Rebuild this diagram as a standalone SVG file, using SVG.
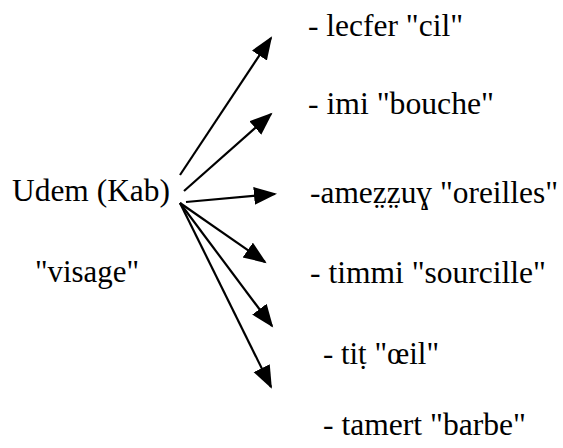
<svg xmlns="http://www.w3.org/2000/svg" width="563" height="448" viewBox="0 0 563 448">
<style>
.t{font-family:"Liberation Serif","DejaVu Serif","Times New Roman",serif;font-size:31px;fill:#000}
</style>
<defs>
<marker id="ah" markerUnits="userSpaceOnUse" markerWidth="24" markerHeight="20" refX="21" refY="9" orient="auto" viewBox="0 0 24 20">
<path d="M0,0 L23,9 L0,18 z" fill="#000"/>
</marker>
</defs>
<rect width="563" height="448" fill="#fff"/>
<g class="t">
<g id="src"><text x="12" y="201" textLength="158" lengthAdjust="spacingAndGlyphs">Udem (Kab)</text><text x="35" y="282" textLength="104" lengthAdjust="spacingAndGlyphs">"visage"</text></g>
<g id="n1"><text x="308" y="36" textLength="155" lengthAdjust="spacingAndGlyphs">- lecfer "cil"</text></g>
<g id="n2"><text x="308" y="114" textLength="186" lengthAdjust="spacingAndGlyphs">- imi "bouche"</text></g>
<g id="n3"><text x="310" y="203" textLength="248" lengthAdjust="spacingAndGlyphs">-amez̤z̤uɣ "oreilles"</text></g>
<g id="n4"><text x="310" y="283" textLength="236" lengthAdjust="spacingAndGlyphs">- timmi "sourcille"</text></g>
<g id="n5"><text x="323" y="364" textLength="116" lengthAdjust="spacingAndGlyphs">- tiṭ "œil"</text></g>
<g id="n6"><text x="323" y="435" textLength="203" lengthAdjust="spacingAndGlyphs">- tamert "barbe"</text></g>
</g>
<g id="connectors" stroke="#000" stroke-width="2.2" marker-end="url(#ah)">
<line x1="180" y1="175" x2="271" y2="38"/>
<line x1="184" y1="191" x2="271" y2="114"/>
<line x1="186" y1="202" x2="275" y2="194"/>
<line x1="180" y1="203" x2="265" y2="262"/>
<line x1="180" y1="203" x2="272" y2="326"/>
<line x1="180" y1="203" x2="271" y2="387"/>
</g>
</svg>
